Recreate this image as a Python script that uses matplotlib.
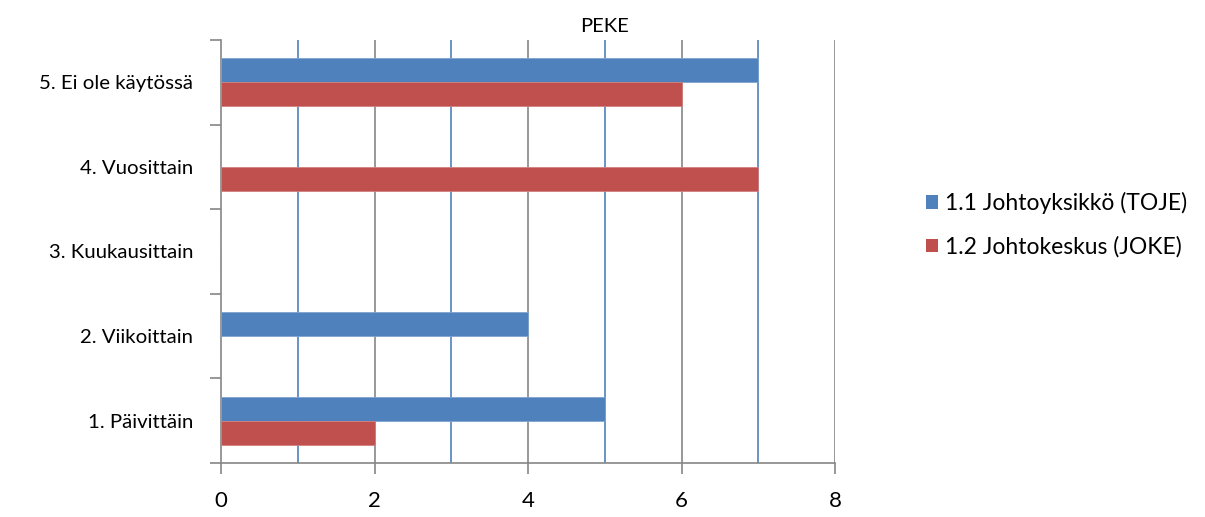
import numpy as np
import matplotlib.pyplot as plt
from matplotlib.patches import Patch

kategoriat = ['1. Päivittäin', '2. Viikoittain', '3. Kuukausittain',
              '4. Vuosittain', '5. Ei ole käytössä']
toje = [5, 4, 0, 0, 7]
joke = [2, 0, 0, 7, 6]
sarjat = ['1.1 Johtoyksikkö (TOJE)', '1.2 Johtokeskus (JOKE)']
varit = ['#4F81BD', '#C0504D']

plt.rcParams['font.family'] = ['Lato', 'DejaVu Sans']

fig = plt.figure(figsize=(12.05, 5.17), dpi=100)
ax = fig.add_axes([221 / 1205, 1 - 463 / 517, 614 / 1205, 423 / 517])

y = np.arange(len(kategoriat))
h = 0.285
ax.barh(y + h / 2, toje, height=h, color=varit[0], edgecolor='#7FA3D0', linewidth=0.6, zorder=3)
ax.barh(y - h / 2, joke, height=h, color=varit[1], edgecolor='#D08080', linewidth=0.6, zorder=3)

ax.set_xlim(0, 8)
ax.set_ylim(-0.5, len(kategoriat) - 0.5)

# pystyruudukko: parilliset harmaat, parittomat siniset
for x in [2, 4, 6, 8]:
    ax.axvline(x, color='#868686', linewidth=1.2, zorder=1)
for x in [1, 3, 5, 7]:
    ax.axvline(x, color='#4F81BD', linewidth=1.2, zorder=1)

ax.set_xticks([0, 2, 4, 6, 8])
ax.set_yticks(y)
ax.set_yticklabels(kategoriat)
ax.set_yticks(np.arange(-0.5, len(kategoriat), 1), minor=True)
ax.tick_params(axis='y', which='major', length=0, pad=20, labelsize=14.7)
ax.tick_params(axis='y', which='minor', length=8, color='#868686', width=1.2)
ax.tick_params(axis='x', length=8, color='#868686', width=1.2, pad=12, labelsize=16)

for s in ['top', 'right']:
    ax.spines[s].set_visible(False)
for s in ['left', 'bottom']:
    ax.spines[s].set_color('#868686')
    ax.spines[s].set_linewidth(1.2)

fig.text(605 / 1205, 1 - 26 / 517, 'PEKE', ha='center', va='center', fontsize=14.5)

kahvat = [Patch(facecolor=c) for c in varit]
fig.legend(kahvat, sarjat, loc='center left', bbox_to_anchor=(905 / 1205, 1 - 225 / 517),
           frameon=False, fontsize=16.5, handlelength=0.55, handleheight=0.55,
           handletextpad=0.3, labelspacing=0.95)

fig.savefig('out.png', dpi=100)
